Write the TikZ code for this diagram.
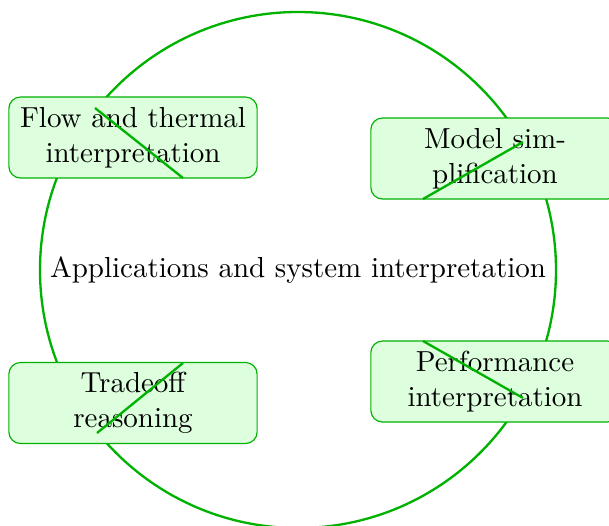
\documentclass[tikz,border=0pt]{standalone}
\begin{document}
\begin{tikzpicture}[x=0.345pt,y=-0.345pt,
  ring/.style={draw=green!70!black, line width=0.8pt},
  appbox/.style={draw=green!70!black, fill=green!13, rounded corners=4pt, line width=0.4pt,
    text width=2.8cm, align=center, minimum width=246*0.345pt, minimum height=81*0.345pt, inner sep=3pt},
  spoke/.style={draw=green!70!black, line width=0.8pt}]
\useasboundingbox (0,0) rectangle (609,525);
\draw[ring] (298,270) circle[radius=258*0.345pt];
\node[appbox] (flow) at (133,137.5) {Flow and thermal interpretation};
\node[appbox] (model) at (495,158.5) {Model sim\-plification};
\node[appbox] (trade) at (133,403) {Tradeoff reasoning};
\node[appbox] (perf) at (495,381.5) {Performance interpretation};
\node (center) at (298,270) {Applications and system interpretation};
\coordinate (a1) at (95,108);  \coordinate (a2) at (183,178);
\coordinate (b1) at (423,199); \coordinate (b2) at (523,142);
\coordinate (c1) at (97,433);  \coordinate (c2) at (183,363);
\coordinate (d1) at (423,341); \coordinate (d2) at (523,398);
\draw[spoke] (a1) -- (a2);
\draw[spoke] (b1) -- (b2);
\draw[spoke] (c1) -- (c2);
\draw[spoke] (d1) -- (d2);
\end{tikzpicture}
\end{document}
